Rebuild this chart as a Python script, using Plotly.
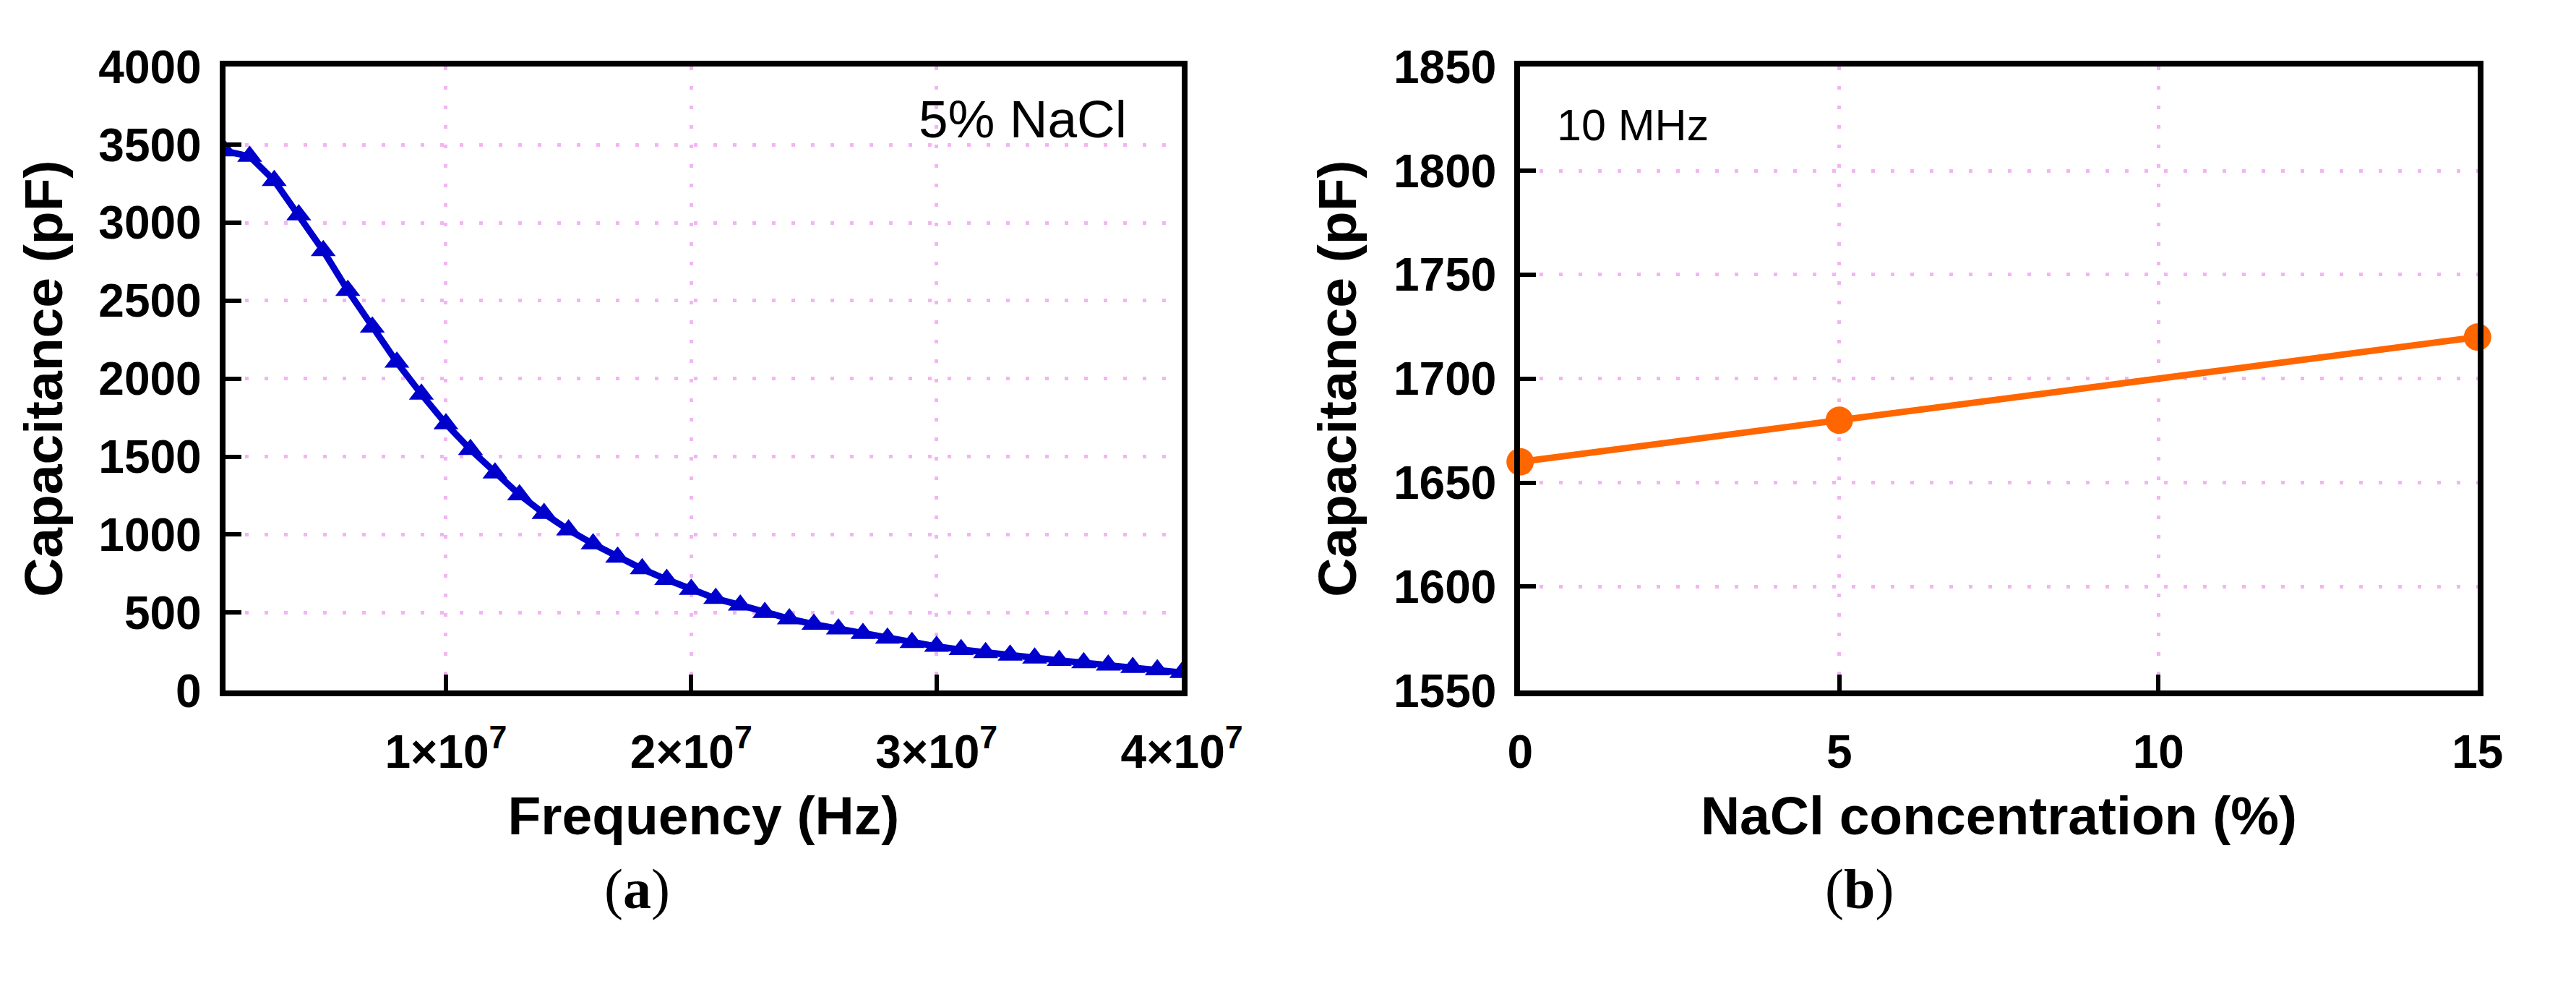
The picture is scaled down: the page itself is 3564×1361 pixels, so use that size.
import plotly.graph_objects as go
from plotly.subplots import make_subplots

# (a) capacitance vs frequency for 5% NaCl
freq_hz = [1e6, 2e6, 3e6, 4e6, 5e6, 6e6, 7e6, 8e6, 9e6, 10e6,
           11e6, 12e6, 13e6, 14e6, 15e6, 16e6, 17e6, 18e6, 19e6, 20e6,
           21e6, 22e6, 23e6, 24e6, 25e6, 26e6, 27e6, 28e6, 29e6, 30e6,
           31e6, 32e6, 33e6, 34e6, 35e6, 36e6, 37e6, 38e6, 39e6, 40e6]
cap_freq_pf = [3460, 3425, 3270, 3050, 2820, 2565, 2330, 2105, 1900, 1710,
               1545, 1395, 1255, 1135, 1030, 940, 855, 780, 712, 648,
               590, 548, 500, 460, 425, 395, 365, 335, 308, 283,
               262, 243, 226, 208, 193, 178, 163, 148, 133, 115]
freq_tickvals = [1e7, 2e7, 3e7, 4e7]
freq_ticktext = ['1×10<sup>7</sup>', '2×10<sup>7</sup>', '3×10<sup>7</sup>', '4×10<sup>7</sup>']

# (b) capacitance at 10 MHz vs NaCl concentration
nacl_pct = [0, 5, 15]
cap_nacl_pf = [1660, 1680, 1720]

W, H = 3564, 1361
sans = 'Liberation Sans'
grid_col = '#f4b4f4'

fig = make_subplots(rows=1, cols=2)

fig.add_trace(go.Scatter(x=freq_hz, y=cap_freq_pf,
                         mode='lines+markers',
                         line=dict(color='#0000cd', width=9),
                         marker=dict(symbol='triangle-up', color='#0000cd', size=30),
                         showlegend=False),
              row=1, col=1)

fig.add_trace(go.Scatter(x=nacl_pct, y=cap_nacl_pf,
                         mode='lines+markers',
                         line=dict(color='#ff6600', width=9),
                         marker=dict(symbol='circle', color='#ff6600', size=38),
                         cliponaxis=False,
                         showlegend=False),
              row=1, col=2)

axis_style = dict(showline=True, linecolor='black', linewidth=8, mirror=True,
                  ticks='inside', ticklen=22, tickwidth=6, tickcolor='black',
                  showgrid=True, gridcolor=grid_col, gridwidth=5, griddash='5px,22px',
                  zeroline=False,
                  tickfont=dict(family=sans, size=64, color='black', weight='bold'),
                  title_font=dict(family=sans, size=75, color='black', weight='bold'))

fig.update_xaxes(axis_style)
fig.update_yaxes(axis_style)

fig.update_layout(
    width=W, height=H,
    margin=dict(l=0, r=0, t=0, b=0),
    plot_bgcolor='white', paper_bgcolor='white',
    xaxis=dict(domain=[294 / W, 1657 / W], range=[1e6, 4e7],
               tickvals=freq_tickvals, ticktext=freq_ticktext,
               ticklabelstandoff=22,
               title=dict(text='Frequency (Hz)', standoff=30)),
    yaxis=dict(domain=[1 - 962 / H, 1 - 51 / H], range=[0, 4000], dtick=500,
               ticklabelstandoff=12,
               title=dict(text='Capacitance (pF)', standoff=28)),
    xaxis2=dict(domain=[2139 / W, 3503 / W], range=[0, 15], dtick=5,
                ticklabelstandoff=22,
                title=dict(text='NaCl concentration (%)', standoff=30)),
    yaxis2=dict(domain=[1 - 962 / H, 1 - 51 / H], range=[1550, 1850], dtick=50,
                ticklabelstandoff=12,
                title=dict(text='Capacitance (pF)', standoff=30)),
)

# in-plot labels
fig.add_annotation(x=3.35e7, y=3665, xref='x', yref='y', text='5% NaCl',
                   showarrow=False, font=dict(family=sans, size=73, color='black'))
fig.add_annotation(x=0.55, y=1822, xref='x2', yref='y2', text='10 MHz',
                   showarrow=False, xanchor='left',
                   font=dict(family=sans, size=61, color='black'))

# panel letters
serif = 'Liberation Serif'
fig.add_annotation(x=832 / W, y=1 - 1300 / H, xref='paper', yref='paper',
                   text='(<b>a</b>)', showarrow=False,
                   font=dict(family=serif, size=78, color='black'))
fig.add_annotation(x=2673 / W, y=1 - 1300 / H, xref='paper', yref='paper',
                   text='(<b>b</b>)', showarrow=False,
                   font=dict(family=serif, size=78, color='black'))

fig.write_html("out.html")
